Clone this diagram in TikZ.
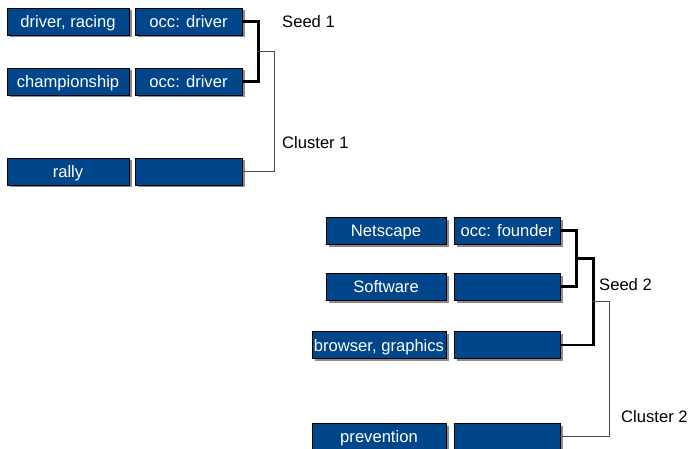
\documentclass[tikz,border=0pt]{standalone}
\usepackage{fontspec}
\setmainfont{Liberation Sans}
\usetikzlibrary{shadows,calc}
\definecolor{boxblue}{RGB}{0,70,138}
\tikzset{
  cbox/.style={draw=black, line width=0.9pt, fill=boxblue, text=white, inner sep=0pt,
    minimum height=27pt, text height=12pt, text depth=0pt, font=\fontsize{16.6}{19}\selectfont,
    drop shadow={shadow xshift=2.5pt, shadow yshift=-2.5pt, fill=black!45, opacity=1}},
  lbox/.style={cbox, minimum width=122pt},
  rbox/.style={cbox, minimum width=107pt},
  thick bracket/.style={line width=2.5pt, black},
  thin bracket/.style={line width=1pt, black!70},
  lab/.style={anchor=west, inner sep=0pt, text height=12pt, text depth=0pt, font=\fontsize{16.6}{19}\selectfont}
}
\begin{document}
\begin{tikzpicture}[x=1pt,y=-1pt]
\useasboundingbox (0,0) rectangle (690,449);
% cluster 1
\node[lbox] (a1) at (68,21.5) {driver, racing};
\node[rbox] (o1) at (188.5,21.5) {occ: driver};
\node[lbox] (a2) at (68,81.5) {championship};
\node[rbox] (o2) at (188.5,81.5) {occ: driver};
\node[lbox] (a3) at (68,171.5) {rally};
\node[rbox] (o3) at (188.5,171.5) {};
\draw[thick bracket] (o1.east) -- ++(16,0) |- (o2.east);
\coordinate (s1) at ($(o1.east)!0.5!(o2.east)+(16,0)$);
\draw[thin bracket] (s1) -- ++(16,0) |- (o3.east);
\node[lab] (seed1) at (282,22) {Seed 1};
\node[lab] (cl1) at (282,143) {Cluster 1};
% cluster 2
\node[cbox, minimum width=120pt] (b1) at (386,230.5) {Netscape};
\node[cbox, minimum width=106pt] (p1) at (507,230.5) {occ: founder};
\node[cbox, minimum width=120pt] (b2) at (386,286.5) {Software};
\node[cbox, minimum width=106pt] (p2) at (507,286.5) {};
\node[cbox, minimum width=134pt] (b3) at (379,345) {browser, graphics};
\node[cbox, minimum width=106pt] (p3) at (507,345) {};
\node[cbox, minimum width=134pt] (b4) at (379,436.5) {prevention};
\node[cbox, minimum width=106pt] (p4) at (507,436.5) {};
\draw[thick bracket] (p1.east) -- ++(16,0) |- (p2.east);
\coordinate (s2a) at ($(p1.east)!0.5!(p2.east)+(16,0)$);
\draw[thick bracket] (s2a) -- ++(17,0) |- (p3.east);
\coordinate (s2b) at ($(s2a)!0.5!(s2a|-p3.east)+(17,0)$);
\draw[thin bracket] (s2b) -- ++(16,0) |- (p4.east);
\node[lab] (seed2) at (599,284) {Seed 2};
\node[lab] (cl2) at (621,416) {Cluster 2};
\end{tikzpicture}
\end{document}
